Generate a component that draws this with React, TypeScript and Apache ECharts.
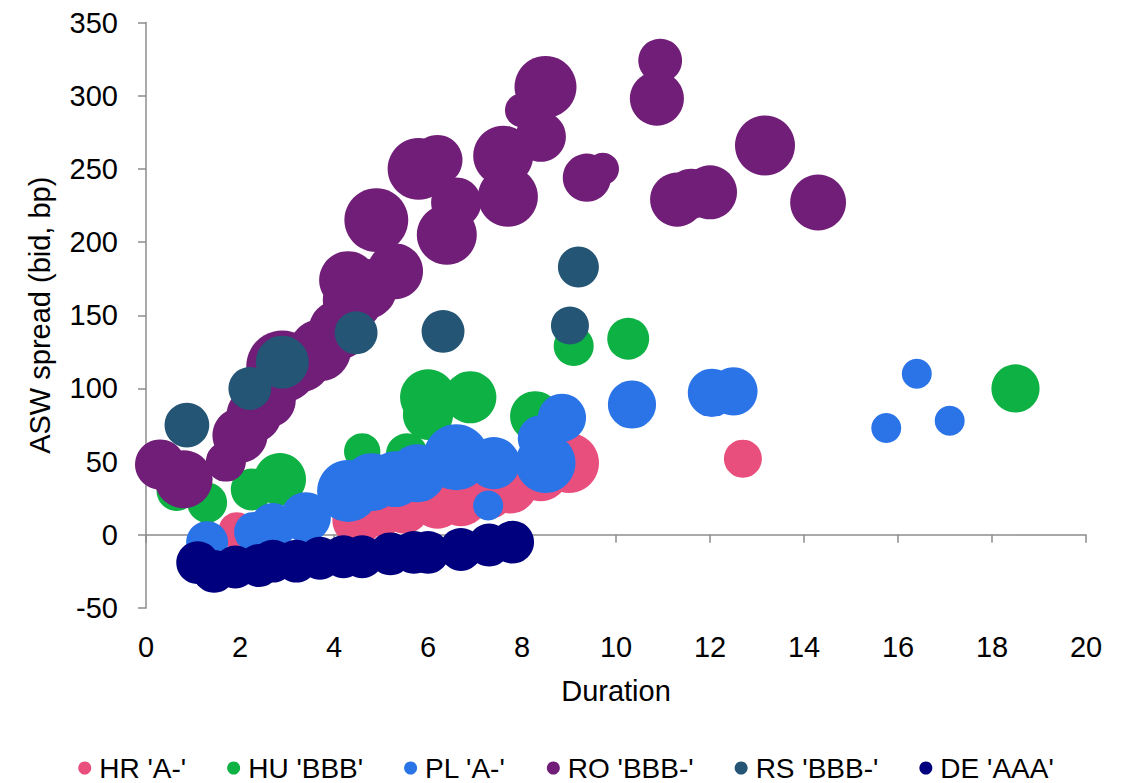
import React, { useEffect, useRef } from "react";
import * as echarts from "echarts";

// Each point: [duration (years), ASW spread (bp), bubble size (relative amount)]
const seriesNames = ["HR 'A-'", "HU 'BBB'", "PL 'A-'", "RO 'BBB-'", "RS 'BBB-'", "DE 'AAA'"];
const seriesColors = ["#E94F7C", "#0EB143", "#2A74E8", "#701E77", "#245575", "#00007F"];

const hrData = [
  [1.93, 3, 3.3], [4.5, 10, 6.3], [5.0, 16, 6.3], [5.5, 18, 6.3], [6.2, 22, 6.8],
  [6.7, 25, 7.8], [7.3, 28, 6.3], [7.75, 33, 7.3], [8.4, 42, 7.8], [9.0, 49, 9.0],
  [12.7, 52, 3.6],
];
const huData = [
  [0.65, 30, 4.0], [1.3, 22, 4.0], [2.25, 31, 4.4], [2.85, 38, 6.8], [4.6, 57, 3.3],
  [5.55, 55, 4.4], [6.0, 94, 7.8], [6.0, 82, 6.3], [6.9, 94, 6.8], [8.28, 81, 6.3],
  [9.1, 129, 4.0], [10.26, 134, 4.4], [18.5, 100, 5.8],
];
const plData = [
  [1.3, -5, 4.4], [2.3, 2, 4.0], [2.7, 6, 5.3], [3.4, 12, 6.3], [4.3, 30, 9.6],
  [4.8, 36, 8.4], [5.3, 38, 7.8], [5.77, 42, 8.4], [6.6, 53, 10.9], [7.4, 49, 6.8],
  [7.28, 20, 2.25], [8.4, 66, 5.3], [8.5, 49, 9.0], [8.85, 80, 5.8], [10.34, 89, 5.8],
  [12.04, 97, 5.8], [12.5, 98, 5.8], [15.75, 73, 2.25], [16.4, 110, 2.25], [17.1, 78, 2.25],
];
const roData = [
  [0.3, 48, 6.3], [0.8, 38, 8.4], [1.7, 50, 4.0], [2.0, 68, 7.6], [2.3, 82, 7.6],
  [2.6, 92, 7.6], [2.9, 115, 13.0], [3.3, 118, 9.0], [3.7, 126, 9.6], [4.1, 140, 9.0],
  [4.4, 160, 9.0], [4.3, 174, 8.4], [4.7, 168, 9.0], [5.3, 180, 7.8], [4.9, 215, 10.2],
  [5.8, 250, 9.6], [6.2, 256, 6.3], [6.4, 205, 9.0], [6.6, 227, 6.3], [7.6, 259, 9.0],
  [7.7, 231, 9.0], [8.0, 290, 2.9], [8.4, 272, 6.3], [8.5, 306, 9.6], [10.94, 324, 4.8],
  [10.87, 298, 7.3], [9.38, 244, 5.8], [9.72, 250, 2.6], [11.3, 229, 7.3], [11.6, 233, 6.3],
  [12.0, 234, 7.3], [13.17, 266, 9.0], [14.3, 227, 7.8],
];
const rsData = [
  [0.87, 75, 5.0], [2.21, 100, 4.6], [2.9, 118, 7.0], [4.47, 138, 4.6], [6.32, 139, 4.6],
  [9.02, 143, 3.6], [9.2, 183, 4.2],
];
const deData = [
  [1.1, -19, 4.6], [1.45, -25, 4.6], [1.9, -22, 4.6], [2.4, -21, 4.6], [2.7, -18, 4.6],
  [3.2, -18, 4.6], [3.7, -16, 4.6], [4.2, -15, 4.6], [4.6, -15, 4.6], [5.2, -13, 4.6],
  [5.7, -12, 4.6], [6.0, -12, 4.6], [6.7, -10, 4.6], [7.3, -7, 4.6], [7.8, -5, 4.6],
];
const allData = [hrData, huData, plData, roData, rsData, deData];

const xTicks = { min: 0, max: 20, interval: 2 };
const yTicks = { min: -50, max: 350, interval: 50 };

const FONT = "'Liberation Sans', Arial, sans-serif";
const FS = 29;
const AXIS_GRAY = "#8C8C8C";

export default function App() {
  const ref = useRef<HTMLDivElement>(null);

  useEffect(() => {
    if (!ref.current) return;
    const chart = echarts.init(ref.current, null, { renderer: "svg" });
    chart.setOption({
      animation: false,
      backgroundColor: "#ffffff",
      textStyle: { fontFamily: FONT },
      grid: { left: 138, right: 38, top: 14, bottom: 175 },
      legend: {
        top: 746,
        left: "center",
        padding: 0,
        icon: "circle",
        itemWidth: 13,
        itemHeight: 13,
        itemGap: 41,
        data: seriesNames,
        textStyle: {
          fontFamily: FONT,
          fontSize: 28,
          lineHeight: 28,
          color: "#000",
          padding: [0, 0, 0, 3],
        },
      },
      xAxis: [
        {
          type: "value",
          position: "top",
          min: xTicks.min,
          max: xTicks.max,
          interval: xTicks.interval,
          axisLine: { show: true, onZero: true, lineStyle: { color: AXIS_GRAY, width: 1.5 } },
          axisTick: { show: true, inside: true, length: 8, lineStyle: { color: AXIS_GRAY, width: 1.5 } },
          axisLabel: { show: false },
          splitLine: { show: false },
        },
        {
          type: "value",
          position: "bottom",
          min: xTicks.min,
          max: xTicks.max,
          interval: xTicks.interval,
          axisLine: { show: false, onZero: false },
          axisTick: { show: false },
          axisLabel: { show: true, margin: 24, fontSize: FS, color: "#000", fontFamily: FONT },
          splitLine: { show: false },
          name: "Duration",
          nameLocation: "middle",
          nameGap: 68,
          nameTextStyle: { fontSize: FS, color: "#000", fontFamily: FONT },
        },
      ],
      yAxis: {
        type: "value",
        min: yTicks.min,
        max: yTicks.max,
        interval: yTicks.interval,
        axisLine: { show: true, onZero: false, lineStyle: { color: AXIS_GRAY, width: 1.5 } },
        axisTick: { show: true, length: 8, lineStyle: { color: AXIS_GRAY, width: 1.5 } },
        axisLabel: { margin: 28, fontSize: FS, color: "#000", fontFamily: FONT },
        splitLine: { show: false },
        name: "ASW spread (bid, bp)",
        nameLocation: "middle",
        nameGap: 92,
        nameTextStyle: { fontSize: FS, color: "#000", fontFamily: FONT },
      },
      series: allData.map((d, i) => ({
        name: seriesNames[i],
        type: "scatter",
        xAxisIndex: 0,
        yAxisIndex: 0,
        data: d,
        symbolSize: (val: number[]) => 20 * Math.sqrt(val[2]),
        itemStyle: { color: seriesColors[i], opacity: 1 },
        emphasis: { disabled: true },
      })),
    });
    return () => chart.dispose();
  }, []);

  return <div ref={ref} style={{ width: 1116, height: 775 }} />;
}
